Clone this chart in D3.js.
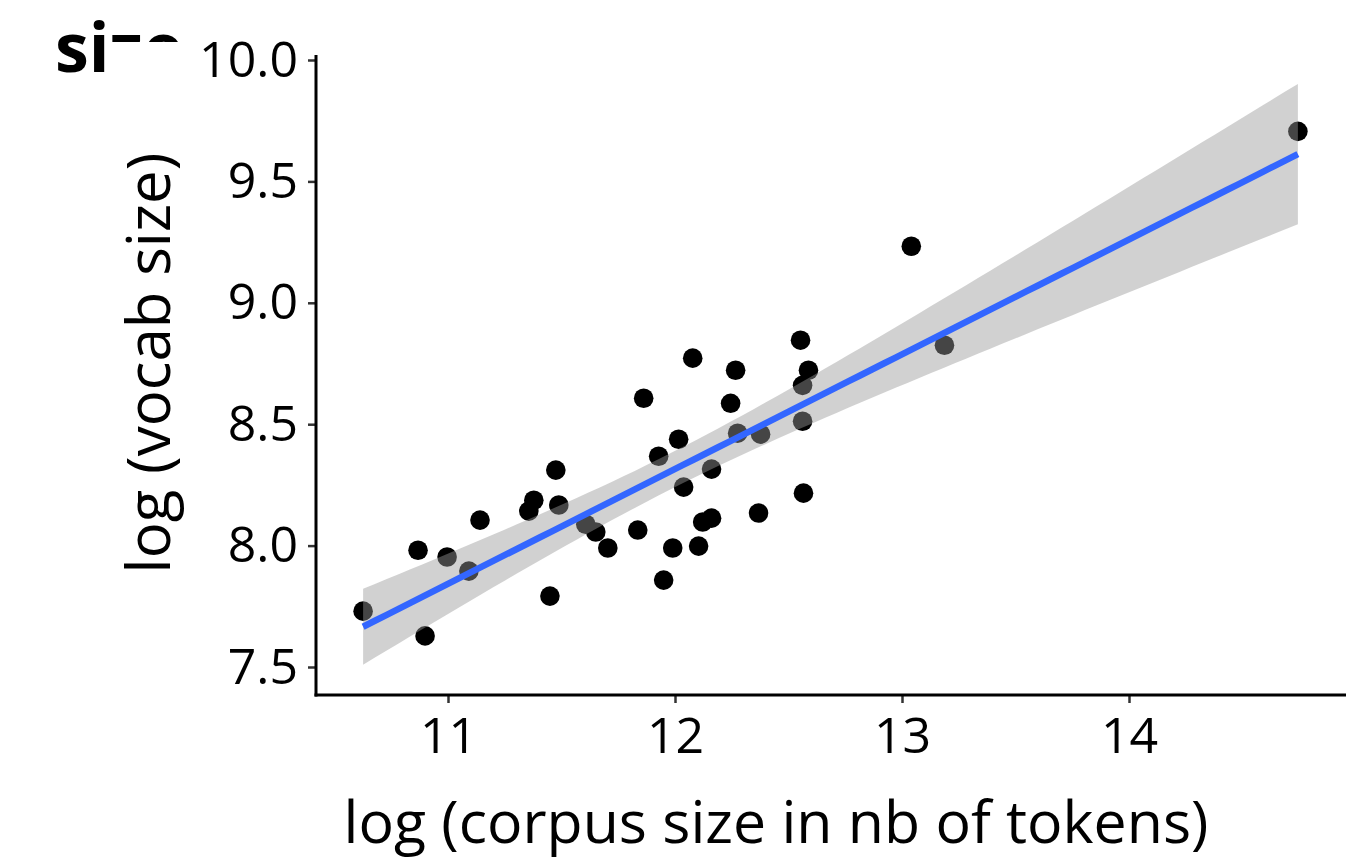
<html lang="en">
<head>
<script src="https://cdn.jsdelivr.net/npm/d3@7"></script>
<style>
body{margin:0;background:#fff}
svg{display:block}
</style>
</head>
<body>
<div id="chart"></div>
<script>
// data: log corpus size vs log vocab size
const corpusLog=[10.626,10.868,10.899,10.996,11.092,11.141,11.356,11.378,11.449,11.475,
11.488,11.607,11.651,11.704,11.836,11.862,11.928,11.950,11.990,12.016,
12.038,12.078,12.104,12.122,12.161,12.161,12.245,12.267,12.276,12.368,
12.377,12.553,12.562,12.562,12.566,12.588,13.041,13.187,14.744]
const vocabLog=[7.730,7.981,7.628,7.953,7.895,8.105,8.142,8.187,7.792,8.311,
8.167,8.088,8.056,7.990,8.064,8.607,8.368,7.858,7.990,8.438,
8.241,8.772,7.998,8.097,8.113,8.315,8.586,8.722,8.463,8.134,
8.459,8.846,8.660,8.512,8.216,8.722,9.233,8.825,9.706]
const xTicks=[11,12,13,14]
const yTicks=[7.5,8.0,8.5,9.0,9.5,10.0]
const titleText="size"
const xTitle="log (corpus size in nb of tokens)"
const yTitle="log (vocab size)"

const W=1346,H=864
const panel={left:316,right:1346,top:55,bottom:695}

const x=d3.scaleLinear().domain([11,14]).range([448,1129])
const y=d3.scaleLinear().domain([7.5,10]).range([667,60])

const svg=d3.select("#chart").append("svg").attr("width",W).attr("height",H)
  .style("font-family","'Open Sans',sans-serif")

// title, partly hidden by the panel background like in the original
svg.append("text").attr("x",55).attr("y",72).text(titleText)
  .style("font-weight","bold").style("font-size","68px").style("fill","#000")
svg.append("rect").attr("x",108).attr("y",42).attr("width",W).attr("height",H).style("fill","#fff")

// linear fit + 95% confidence band (like geom_smooth(method="lm"))
const pts=corpusLog.map((d,i)=>({x:d,y:vocabLog[i]}))
const n=pts.length
const xbar=d3.mean(corpusLog), ybar=d3.mean(vocabLog)
const Sxx=d3.sum(corpusLog,d=>(d-xbar)**2)
const Sxy=d3.sum(pts,d=>(d.x-xbar)*(d.y-ybar))
const slope=Sxy/Sxx, icpt=ybar-slope*xbar
const sse=d3.sum(pts,d=>(d.y-(icpt+slope*d.x))**2)
const s=Math.sqrt(sse/(n-2))
const tCrit=2.026 // qt(0.975, 37)
const [xmin,xmax]=d3.extent(corpusLog)
const grid=d3.range(80).map(i=>{
  let gx=xmin+(xmax-xmin)*i/79
  let fit=icpt+slope*gx
  let se=s*Math.sqrt(1/n+(gx-xbar)**2/Sxx)
  return {x:gx,fit:fit,lo:fit-tCrit*se,hi:fit+tCrit*se}
})

// points
svg.append("g").selectAll("circle").data(pts).enter().append("circle")
  .attr("cx",d=>x(d.x)).attr("cy",d=>y(d.y)).attr("r",9.8).style("fill","#000")

// band
svg.append("path").datum(grid)
  .attr("d",d3.area().x(d=>x(d.x)).y0(d=>y(d.lo)).y1(d=>y(d.hi)))
  .style("fill","#999999").style("opacity",0.45)

// fit line
svg.append("path").datum(grid)
  .attr("d",d3.line().x(d=>x(d.x)).y(d=>y(d.fit)))
  .style("fill","none").style("stroke","#3366FF").style("stroke-width",6.5)

// axes
const gx=svg.append("g").attr("transform","translate(0,"+panel.bottom+")")
  .call(d3.axisBottom(x).tickValues(xTicks).tickSize(8).tickPadding(14).tickFormat(d3.format("d")))
gx.select(".domain").remove()
gx.selectAll("line").style("stroke","#333").style("stroke-width",2.5)
gx.selectAll("text").style("font-size","50px").style("fill","#000").style("font-family","'Open Sans',sans-serif")

const gy=svg.append("g").attr("transform","translate("+panel.left+",0)")
  .call(d3.axisLeft(y).tickValues(yTicks).tickSize(8).tickPadding(10).tickFormat(d3.format(".1f")))
gy.select(".domain").remove()
gy.selectAll("line").style("stroke","#333").style("stroke-width",2.5)
gy.selectAll("text").style("font-size","50px").style("fill","#000").style("font-family","'Open Sans',sans-serif")

svg.append("line").attr("x1",panel.left).attr("x2",panel.left).attr("y1",panel.top).attr("y2",panel.bottom+1.5)
  .style("stroke","#000").style("stroke-width",3)
svg.append("line").attr("x1",panel.left-1.5).attr("x2",panel.right).attr("y1",panel.bottom).attr("y2",panel.bottom)
  .style("stroke","#000").style("stroke-width",3)

// axis titles
svg.append("text").attr("x",776).attr("y",843).attr("text-anchor","middle").text(xTitle)
  .style("font-size","59px").style("fill","#000")
svg.append("text").attr("transform","translate(170,363) rotate(-90)").attr("text-anchor","middle").text(yTitle)
  .style("font-size","60px").style("fill","#000")
</script>
</body>
</html>
